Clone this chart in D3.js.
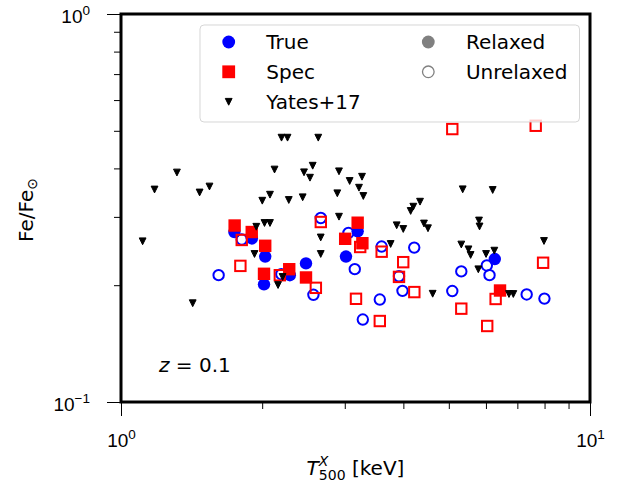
<!DOCTYPE html>
<html>
<head>
<meta charset="utf-8">
<script src="https://cdn.jsdelivr.net/npm/d3@7"></script>
<style>
  body { margin: 0; background: #fff; }
  svg { display: block; font-family: "DejaVu Sans", sans-serif; }
</style>
</head>
<body>
<div id="chart"></div>
<script>
// Yates+17 observations
const yatesT = [1.112, 1.179, 1.316, 1.422, 1.471, 1.544, 1.926, 1.943, 2.001, 2.023,
  2.078, 2.078, 2.125, 2.162, 2.199, 2.265, 2.211, 2.279, 2.440, 2.456,
  2.529, 2.563, 2.634, 2.666, 2.666, 2.892, 2.916, 2.916, 3.073, 3.217,
  3.265, 3.286, 3.758, 3.871, 3.998, 4.146, 4.200, 4.341, 4.426, 4.514,
  4.619, 5.316, 5.353, 5.507, 5.565, 5.779, 5.799, 5.814, 6.003, 6.202,
  6.252, 6.718, 6.863, 7.978];
const yatesFe = [0.2595, 0.3529, 0.3903, 0.1797, 0.3467, 0.3592, 0.2407, 0.2829, 0.3302, 0.2893,
  0.2893, 0.3422, 0.3973, 0.2002, 0.48, 0.48, 0.21, 0.3316, 0.337, 0.3908,
  0.3785, 0.4064, 0.48, 0.2655, 0.2407, 0.3451, 0.3931, 0.3003, 0.3712, 0.3567,
  0.3807, 0.3396, 0.2554, 0.2854, 0.2792, 0.3107, 0.3187, 0.3283, 0.2884, 0.2804,
  0.1901, 0.2546, 0.3533, 0.2474, 0.2393, 0.2198, 0.2936, 0.2834, 0.2407, 0.3519,
  0.2455, 0.1898, 0.1898, 0.26];

// True metallicity, relaxed / unrelaxed
const trueRelT = [1.745, 1.901, 2.030, 2.018, 2.291, 2.480, 3.018, 3.196, 6.266];
const trueRelFe = [0.2742, 0.2639, 0.2371, 0.2011, 0.2122, 0.2276, 0.2371, 0.2754, 0.2336];
const trueUnrelT = [1.615, 1.809, 2.197, 2.572, 2.667, 3.055, 3.151, 3.278, 3.563, 3.595,
  3.915, 3.983, 4.219, 5.086, 5.316, 6.026, 6.106, 7.328, 7.995];
const trueUnrelFe = [0.2123, 0.2624, 0.2135, 0.1889, 0.298, 0.2727, 0.22, 0.1631, 0.1837, 0.2516,
  0.2109, 0.1934, 0.25, 0.1932, 0.2171, 0.2249, 0.2123, 0.1893, 0.1847];

// Spectroscopic metallicity, relaxed / unrelaxed
const specRelT = [1.747, 1.900, 2.030, 2.018, 2.284, 2.480, 3.006, 3.196, 3.271, 6.429];
const specRelFe = [0.285, 0.2742, 0.2527, 0.214, 0.2199, 0.2094, 0.2634, 0.2898, 0.2566, 0.1938];
const specUnrelT = [1.797, 1.809, 2.181, 2.603, 2.667, 3.170, 3.236, 3.563, 3.596, 3.915,
  3.997, 4.221, 5.086, 5.316, 6.037, 6.292, 7.66, 7.943];
const specUnrelFe = [0.2243, 0.2616, 0.2122, 0.1969, 0.291, 0.1845, 0.2509, 0.1617, 0.244, 0.2101,
  0.2293, 0.192, 0.5052, 0.174, 0.157, 0.1843, 0.5152, 0.2285];

const xMajor = [1, 10];
const xMinor = [2, 3, 4, 5, 6, 7, 8, 9];
const yMajor = [0.1, 1];
const yMinor = [0.2, 0.3, 0.4, 0.5, 0.6, 0.7, 0.8, 0.9];
const xExp = ["0", "1"];
const yExp = ["\u22121", "0"];

const width = 627, height = 490;
const box = { left: 121, right: 590, top: 14, bottom: 402 };

const svg = d3.select("#chart").append("svg")
  .attr("width", width)
  .attr("height", height);

const x = d3.scaleLog().domain([1, 10]).range([box.left, box.right]);
const y = d3.scaleLog().domain([0.1, 1]).range([box.bottom, box.top]);

const zip = (a, b) => a.map((v, i) => [v, b[i]]);

// axes (ticks only, frame drawn later)
function styleAxis(g) {
  g.select(".domain").remove();
  g.selectAll("line").attr("stroke", "#000").attr("stroke-width", 1);
}

svg.append("g")
  .attr("transform", `translate(0,${box.bottom})`)
  .call(d3.axisBottom(x).tickValues(xMinor).tickSize(7).tickFormat(""))
  .call(styleAxis);

const xAx = svg.append("g")
  .attr("transform", `translate(0,${box.bottom})`)
  .call(d3.axisBottom(x).tickValues(xMajor).tickSize(14).tickFormat(""))
  .call(styleAxis);

xAx.selectAll(".tick text")
  .attr("y", 45).attr("dy", 0)
  .attr("font-size", "19px")
  .attr("fill", "#000")
  .each(function(d, i) {
    const t = d3.select(this);
    t.text("10");
    t.append("tspan").attr("dy", -8).attr("font-size", "13.5px").text(xExp[i]);
  });

svg.append("g")
  .attr("transform", `translate(${box.left},0)`)
  .call(d3.axisLeft(y).tickValues(yMinor).tickSize(7).tickFormat(""))
  .call(styleAxis);

const yAx = svg.append("g")
  .attr("transform", `translate(${box.left},0)`)
  .call(d3.axisLeft(y).tickValues(yMajor).tickSize(14).tickFormat(""))
  .call(styleAxis);

yAx.selectAll(".tick text")
  .attr("x", -31).attr("dy", 0).attr("y", 8)
  .attr("font-size", "19px")
  .attr("fill", "#000")
  .each(function(d, i) {
    const t = d3.select(this);
    t.text("10");
    t.append("tspan").attr("dy", -8).attr("font-size", "13.5px").text(yExp[i]);
  });

const plot = svg.append("g");

// True (blue circles)
plot.selectAll(".true-rel")
  .data(zip(trueRelT, trueRelFe))
  .enter().append("circle")
  .attr("cx", d => x(d[0]))
  .attr("cy", d => y(d[1]))
  .attr("r", 6.2)
  .attr("fill", "#0000ff");

plot.selectAll(".true-unrel")
  .data(zip(trueUnrelT, trueUnrelFe))
  .enter().append("circle")
  .attr("cx", d => x(d[0]))
  .attr("cy", d => y(d[1]))
  .attr("r", 5.2)
  .attr("fill", "none")
  .attr("stroke", "#0000ff")
  .attr("stroke-width", 2);

// Spec (red squares)
plot.selectAll(".spec-unrel")
  .data(zip(specUnrelT, specUnrelFe))
  .enter().append("rect")
  .attr("x", d => x(d[0]) - 5.2)
  .attr("y", d => y(d[1]) - 5.2)
  .attr("width", 10.4)
  .attr("height", 10.4)
  .attr("fill", "none")
  .attr("stroke", "#ff0000")
  .attr("stroke-width", 2);

plot.selectAll(".spec-rel")
  .data(zip(specRelT, specRelFe))
  .enter().append("rect")
  .attr("x", d => x(d[0]) - 6.2)
  .attr("y", d => y(d[1]) - 6.2)
  .attr("width", 12.4)
  .attr("height", 12.4)
  .attr("fill", "#ff0000");

// Yates+17 triangles
const tri = (cx, cy, s) => `M${cx - s},${cy - s}L${cx + s},${cy - s}L${cx},${cy + s}Z`;

plot.selectAll(".yates")
  .data(zip(yatesT, yatesFe))
  .enter().append("path")
  .attr("d", d => tri(x(d[0]), y(d[1]), 3.4))
  .attr("fill", "#000")
  .attr("stroke", "#000")
  .attr("stroke-width", 1);

// frame
svg.append("rect")
  .attr("x", box.left).attr("y", box.top)
  .attr("width", box.right - box.left).attr("height", box.bottom - box.top)
  .attr("fill", "none")
  .attr("stroke", "#000")
  .attr("stroke-width", 3);

// redshift note
const zt = svg.append("text")
  .attr("x", 159).attr("y", 372)
  .attr("font-size", "20px");
zt.append("tspan").attr("font-style", "italic").text("z");
zt.append("tspan").text(" = 0.1");

// axis labels
const xl = svg.append("text")
  .attr("x", (box.left + box.right) / 2).attr("y", 475)
  .attr("text-anchor", "middle")
  .attr("font-size", "20px");
xl.append("tspan").attr("font-style", "italic").text("T");
xl.append("tspan").attr("font-style", "italic").attr("font-size", "14px").attr("dy", -9).text("X");
xl.append("tspan").attr("font-size", "14px").attr("dx", -9.6).attr("dy", 14).text("500");
xl.append("tspan").attr("dy", -5).text(" [keV]");

const yl = svg.append("text")
  .attr("transform", `translate(33,${(box.top + box.bottom) / 2 + 2}) rotate(-90)`)
  .attr("text-anchor", "middle")
  .attr("font-size", "20px");
yl.append("tspan").text("Fe/Fe");
yl.append("tspan").attr("font-size", "14px").attr("dy", 4).text("\u2299");

// legend
const legend = svg.append("g");
legend.append("rect")
  .attr("x", 200).attr("y", 25)
  .attr("width", 379.5).attr("height", 97)
  .attr("rx", 4)
  .attr("fill", "#fff").attr("fill-opacity", 0.8)
  .attr("stroke", "#cccccc").attr("stroke-opacity", 0.8);

const legendItems = [
  { label: "True", col: 0, row: 0, kind: "circle", fill: "#0000ff", stroke: "none" },
  { label: "Spec", col: 0, row: 1, kind: "square", fill: "#ff0000", stroke: "none" },
  { label: "Yates+17", col: 0, row: 2, kind: "tri", fill: "#000", stroke: "#000" },
  { label: "Relaxed", col: 1, row: 0, kind: "circle", fill: "#808080", stroke: "none" },
  { label: "Unrelaxed", col: 1, row: 1, kind: "open", fill: "#fff", stroke: "#808080" }
];
const colX = [228.7, 428.3];
const rowY = [42, 71.8, 101.8];

legendItems.forEach(it => {
  const mx = colX[it.col], my = rowY[it.row];
  if (it.kind === "circle") {
    legend.append("circle").attr("cx", mx).attr("cy", my).attr("r", 6.4).attr("fill", it.fill);
  } else if (it.kind === "open") {
    legend.append("circle").attr("cx", mx).attr("cy", my).attr("r", 5.8)
      .attr("fill", it.fill).attr("stroke", it.stroke).attr("stroke-width", 1.3);
  } else if (it.kind === "square") {
    legend.append("rect").attr("x", mx - 6.4).attr("y", my - 6.4)
      .attr("width", 12.8).attr("height", 12.8).attr("fill", it.fill);
  } else {
    legend.append("path").attr("d", tri(mx, my, 3.4))
      .attr("fill", it.fill).attr("stroke", it.stroke).attr("stroke-width", 1);
  }
  legend.append("text")
    .attr("x", mx + 37.6).attr("y", my + 7)
    .attr("font-size", "20px")
    .text(it.label);
});
</script>
</body>
</html>
